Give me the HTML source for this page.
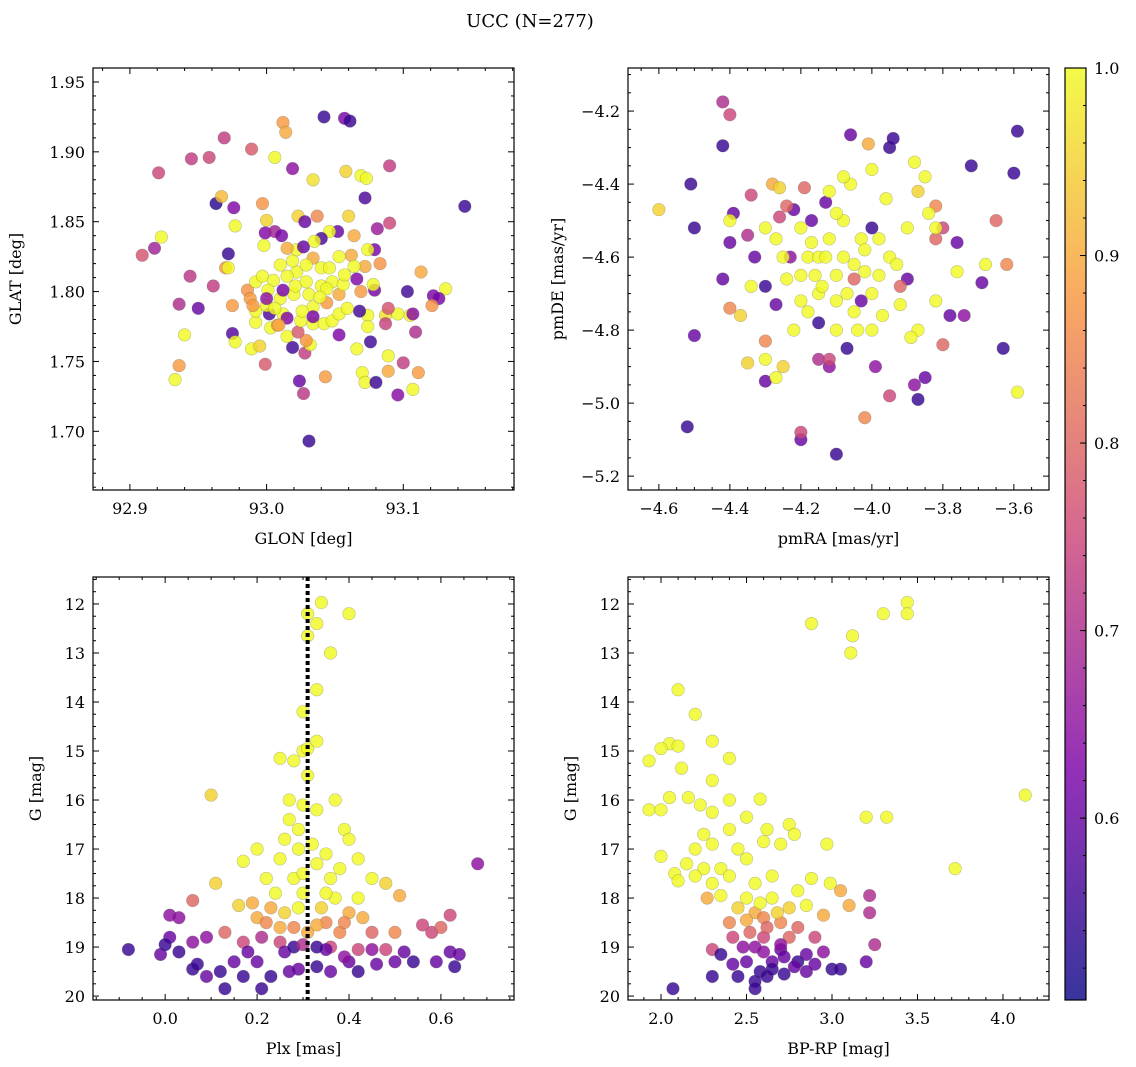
<!DOCTYPE html>
<html><head><meta charset="utf-8"><style>
body{margin:0;background:#fff;}
svg{display:block;font-family:"DejaVu Serif","Liberation Serif",serif;}
</style></head><body>
<svg id="fig" width="1136" height="1067" xmlns="http://www.w3.org/2000/svg">
<text x="530" y="27" font-size="18" text-anchor="middle">UCC (N=277)</text>
</svg>
<script>
// ---- data: [x, y, probability] per panel ----
const glonGlat = [[93.042,1.925,.55],[93.057,1.924,.62],[93.061,1.922,.55],[93.012,1.921,.88],[93.014,1.914,.9],[92.969,1.910,.73],[92.989,1.902,.78],[92.945,1.895,.73],[92.958,1.896,.75],[93.006,1.896,1],[93.019,1.888,.65],[92.921,1.885,.75],[93.090,1.890,.73],[93.034,1.880,.97],[93.058,1.886,.95],[93.069,1.883,1],[93.073,1.881,1],[93.072,1.867,.57],[93.145,1.861,.55],[92.963,1.863,.53],[92.967,1.868,.92],[92.976,1.860,.63],[92.997,1.863,.87],[92.977,1.847,1],[93.000,1.851,.95],[93.023,1.854,.95],[93.028,1.850,.6],[93.037,1.854,.85],[93.060,1.854,.95],[92.923,1.839,1],[92.918,1.831,.68],[92.909,1.826,.77],[92.972,1.827,.55],[92.970,1.817,.88],[92.972,1.817,1],[92.944,1.811,.72],[92.961,1.804,.73],[92.936,1.791,.7],[92.950,1.788,.6],[92.975,1.790,.88],[92.940,1.769,1],[92.975,1.770,.58],[92.977,1.764,1],[92.936,1.747,.88],[92.933,1.737,1],[92.999,1.842,.63],[93.006,1.843,.68],[93.011,1.840,.62],[92.998,1.833,1],[93.052,1.843,.6],[93.046,1.843,1],[93.040,1.838,.57],[93.064,1.840,.9],[93.081,1.845,.67],[93.090,1.849,.75],[93.079,1.830,.62],[93.074,1.830,1],[93.062,1.826,.9],[93.053,1.825,1],[93.083,1.820,.87],[93.072,1.818,.9],[93.064,1.818,1],[93.113,1.814,.9],[93.131,1.802,1],[93.103,1.800,.56],[93.122,1.797,.62],[93.126,1.795,.62],[93.121,1.790,.87],[93.109,1.771,.7],[93.105,1.783,1],[93.107,1.784,.64],[93.096,1.784,1],[93.087,1.783,.97],[93.089,1.788,.77],[93.087,1.777,.74],[93.074,1.783,1],[93.074,1.775,1],[93.068,1.786,.56],[93.079,1.801,.62],[93.078,1.805,1],[93.069,1.800,.88],[93.066,1.809,.63],[93.076,1.764,.56],[93.053,1.769,.63],[93.066,1.759,1],[93.089,1.754,1],[93.100,1.749,.73],[93.089,1.743,.9],[93.111,1.742,.88],[93.070,1.742,1],[93.072,1.735,1],[93.080,1.735,.55],[93.096,1.726,.64],[93.107,1.730,1],[93.043,1.739,.88],[93.024,1.736,.6],[93.027,1.727,.72],[93.031,1.693,.55],[92.999,1.748,.78],[93.019,1.760,.56],[93.028,1.756,.73],[93.032,1.762,1],[93.029,1.765,.87],[93.015,1.768,1],[93.023,1.771,.78],[92.989,1.759,1],[92.995,1.761,.95],[93.003,1.774,1],[93.008,1.776,.88],[92.992,1.778,1],[92.992,1.786,1],[93.002,1.784,.57],[93.012,1.784,1],[93.025,1.779,1],[93.034,1.777,1],[93.042,1.777,1],[93.048,1.779,1],[93.053,1.784,1],[93.059,1.788,1],[93.044,1.792,.88],[93.053,1.798,.9],[93.034,1.789,1],[93.026,1.786,1],[93.034,1.782,.62],[93.015,1.781,.63],[92.986,1.801,.87],[92.988,1.795,.88],[92.992,1.807,1],[92.997,1.811,1],[93.005,1.808,1],[93.001,1.801,1],[93.010,1.795,1],[93.000,1.790,1],[93.006,1.788,1],[93.020,1.798,1],[93.021,1.804,1],[93.031,1.798,1],[93.029,1.807,1],[93.022,1.814,1],[93.015,1.811,1],[93.010,1.819,1],[93.019,1.822,1],[93.022,1.830,1],[93.015,1.831,.9],[93.027,1.832,.6],[93.034,1.824,.9],[93.029,1.819,1],[93.040,1.817,1],[93.046,1.817,1],[93.035,1.836,1],[93.040,1.804,1],[93.048,1.807,1],[93.056,1.805,1],[93.057,1.812,1],[93.044,1.802,1],[93.039,1.796,1],[93.012,1.801,.62],[93.000,1.795,.65],[92.990,1.790,.88],[93.009,1.776,.9]];
const pmPoints = [[-4.52,-5.065,.55],[-4.5,-4.815,.6],[-4.5,-4.52,.55],[-4.51,-4.4,.55],[-4.42,-4.295,.55],[-4.4,-4.56,.6],[-4.39,-4.48,.6],[-4.42,-4.66,.6],[-4.33,-4.6,.6],[-4.3,-4.68,.55],[-4.3,-4.94,.6],[-4.27,-4.73,.6],[-4.22,-4.47,.6],[-4.2,-5.1,.6],[-4.17,-4.5,.6],[-4.15,-4.78,.55],[-4.1,-5.14,.55],[-4.13,-4.45,.6],[-4.07,-4.85,.55],[-4.06,-4.265,.6],[-4.0,-4.52,.55],[-3.95,-4.3,.55],[-3.94,-4.275,.55],[-3.9,-4.66,.6],[-3.85,-4.93,.6],[-3.76,-4.56,.6],[-3.72,-4.35,.55],[-3.69,-4.67,.6],[-3.63,-4.85,.55],[-3.59,-4.255,.55],[-3.6,-4.37,.55],[-3.87,-4.99,.55],[-4.23,-4.6,.65],[-4.03,-4.72,.6],[-3.74,-4.76,.65],[-3.78,-4.76,.6],[-4.12,-4.9,.65],[-3.99,-4.9,.65],[-3.88,-4.95,.65],
[-4.42,-4.175,.7],[-4.4,-4.21,.75],[-4.34,-4.43,.75],[-4.35,-4.54,.7],[-4.2,-5.08,.75],[-4.26,-4.49,.75],[-4.15,-4.88,.7],[-4.12,-4.88,.75],[-4.02,-5.04,.85],[-4.05,-4.66,.8],[-3.95,-4.98,.75],[-3.8,-4.52,.75],[-3.82,-4.55,.8],[-3.65,-4.5,.8],[-3.62,-4.62,.85],[-3.8,-4.84,.8],[-4.4,-4.74,.85],[-4.3,-4.83,.85],[-4.01,-4.29,.9],[-3.92,-4.68,.8],[-4.19,-4.41,.8],[-3.82,-4.46,.85],[-4.24,-4.46,.8],
[-4.6,-4.47,.95],[-4.4,-4.5,1],[-4.34,-4.68,1],[-4.37,-4.76,.95],[-4.35,-4.89,.95],[-4.3,-4.88,1],[-4.27,-4.93,1],[-4.25,-4.9,.95],[-4.28,-4.4,.9],[-4.26,-4.41,.95],[-4.2,-4.52,1],[-4.18,-4.6,1],[-4.2,-4.65,1],[-4.15,-4.6,1],[-4.12,-4.55,1],[-4.1,-4.65,1],[-4.08,-4.6,1],[-4.1,-4.72,1],[-4.05,-4.75,1],[-4.02,-4.64,1],[-4.0,-4.7,1],[-3.98,-4.65,1],[-4.03,-4.55,1],[-3.98,-4.55,1],[-3.95,-4.6,1],[-3.92,-4.73,1],[-4.04,-4.8,1],[-4.0,-4.8,1],[-4.15,-4.7,1],[-4.2,-4.72,1],[-4.25,-4.6,1],[-4.27,-4.55,1],[-4.3,-4.52,1],[-4.22,-4.8,1],[-4.18,-4.75,1],[-4.08,-4.5,1],[-4.06,-4.4,1],[-4.08,-4.38,1],[-4.0,-4.36,1],[-3.9,-4.52,1],[-3.87,-4.42,.95],[-3.85,-4.38,1],[-3.88,-4.34,1],[-3.84,-4.48,1],[-3.82,-4.52,1],[-3.76,-4.64,1],[-3.68,-4.62,1],[-3.59,-4.97,1],[-3.87,-4.8,1],[-3.89,-4.82,1],[-3.82,-4.72,1],[-4.1,-4.48,1],[-4.13,-4.6,1],[-4.16,-4.65,1],[-4.24,-4.66,1],[-4.1,-4.8,1],[-3.97,-4.76,1],[-4.12,-4.42,1],[-3.96,-4.44,1],[-4.05,-4.62,1],[-4.14,-4.68,1],[-4.07,-4.7,1],[-4.02,-4.58,1],[-4.17,-4.56,1],[-3.93,-4.62,1]];
const plxG = [[0.31,12.2,1],[0.31,12.65,1],[0.33,12.4,1],[0.34,11.97,1],[0.4,12.2,1],[0.36,13.0,1],[0.33,13.75,1],[0.3,14.2,1],[0.3,15.0,1],[0.31,14.95,1],[0.33,14.8,1],[0.25,15.15,1],[0.28,15.2,1],[0.1,15.9,.95],[0.31,15.5,1],[0.3,16.1,1],[0.27,16.0,1],[0.33,16.2,1],[0.37,16.0,1],[0.27,16.4,1],[0.39,16.6,1],[0.4,16.8,1],[0.26,16.8,1],[0.29,17.0,1],[0.35,17.1,1],[0.2,17.0,1],[0.17,17.25,1],[0.11,17.7,.95],[0.25,17.2,1],[0.33,17.3,1],[0.38,17.4,1],[0.42,17.2,1],[0.45,17.6,1],[0.22,17.6,1],[0.28,17.6,1],[0.3,17.5,1],[0.36,17.6,1],[0.48,17.7,.95],[0.24,17.9,1],[0.3,17.9,1],[0.37,18.0,1],[0.19,18.1,.9],[0.16,18.15,.95],[0.42,18.0,1],[0.51,17.95,.9],[0.29,18.2,1],[0.26,18.3,.95],[0.34,18.2,.95],[0.4,18.3,.9],[0.2,18.4,.9],[0.22,18.5,.85],[0.25,18.6,.9],[0.35,18.5,.85],[0.43,18.4,.9],[0.28,18.6,.85],[0.31,18.7,.9],[0.38,18.7,.85],[0.45,18.7,.8],[0.5,18.7,.85],[0.13,18.7,.8],[0.17,18.9,.75],[0.25,18.9,.75],[0.36,19.0,.75],[0.42,19.05,.75],[0.48,19.05,.75],[0.58,18.7,.75],[0.6,18.6,.8],[0.62,18.35,.75],[0.56,18.55,.75],[0.06,18.05,.8],[0.68,17.3,.65],[0.09,18.8,.65],[0.06,18.9,.65],[0.01,18.35,.65],[0.03,18.4,.65],[0.01,18.8,.6],[-0.08,19.05,.55],[-0.01,19.15,.6],[0.0,18.95,.55],[0.03,19.1,.55],[0.06,19.45,.55],[0.07,19.35,.55],[0.09,19.6,.6],[0.12,19.5,.55],[0.13,19.85,.55],[0.17,19.6,.55],[0.21,19.85,.55],[0.23,19.6,.55],[0.2,19.3,.6],[0.26,19.1,.6],[0.29,19.45,.6],[0.33,19.4,.55],[0.36,19.5,.6],[0.4,19.3,.6],[0.42,19.5,.55],[0.46,19.35,.6],[0.5,19.3,.6],[0.54,19.3,.55],[0.59,19.3,.6],[0.62,19.1,.6],[0.63,19.4,.55],[0.64,19.15,.6],[0.35,19.05,.6],[0.28,19.0,.55],[0.45,19.05,.65],[0.52,19.1,.6],[0.15,19.3,.6],[0.27,19.5,.6],[0.33,19.0,.55],[0.32,16.9,1],[0.29,16.6,1],[0.35,17.9,1],[0.23,18.2,.9],[0.39,18.5,.85],[0.33,18.55,.9],[0.21,18.8,.7],[0.3,18.95,.7],[0.39,19.2,.65],[0.18,19.1,.6]];
const cmdPoints = [[3.44,11.97,1],[3.44,12.2,1],[3.3,12.2,1],[2.88,12.4,1],[3.12,12.65,1],[3.11,13.0,1],[2.1,13.75,1],[2.2,14.25,1],[2.3,14.8,1],[2.05,14.85,1],[2.1,14.9,1],[2.0,14.95,1],[2.4,15.15,1],[1.93,15.2,1],[2.12,15.35,1],[2.3,15.6,1],[2.05,15.95,1],[2.16,15.95,1],[2.4,16.0,1],[2.58,15.98,1],[4.13,15.9,1],[1.93,16.2,1],[2.0,16.2,1],[2.23,16.1,1],[2.3,16.25,1],[2.5,16.35,1],[3.2,16.35,1],[3.32,16.35,1],[2.75,16.5,1],[2.4,16.6,1],[2.25,16.7,1],[2.62,16.6,1],[2.78,16.7,1],[2.3,16.9,1],[2.2,17.0,1],[2.45,17.0,1],[2.6,16.85,1],[2.7,16.9,1],[2.97,16.9,1],[2.0,17.15,1],[2.15,17.3,1],[2.25,17.4,1],[2.35,17.4,1],[3.72,17.4,1],[2.5,17.2,1],[2.08,17.5,1],[2.2,17.55,1],[2.3,17.7,1],[2.4,17.55,1],[2.55,17.7,1],[2.65,17.55,1],[2.88,17.6,1],[2.99,17.7,1],[2.8,17.85,1],[2.1,17.65,1],[2.35,17.95,1],[2.5,18.0,1],[2.65,18.0,1],[2.45,18.2,.95],[2.55,18.3,.9],[2.75,18.2,.95],[2.85,18.15,1],[3.1,18.15,.9],[2.95,18.35,.9],[2.27,18.0,.9],[2.6,18.4,.85],[2.7,18.5,.85],[2.4,18.5,.85],[3.05,17.85,.9],[2.8,18.6,.8],[2.52,18.7,.8],[2.3,19.05,.75],[2.42,18.8,.75],[2.6,18.8,.75],[2.75,18.8,.8],[2.9,18.8,.75],[3.22,17.95,.7],[3.22,18.3,.7],[3.25,18.95,.7],[2.48,19.0,.65],[2.6,19.1,.65],[2.7,19.05,.6],[2.85,19.15,.6],[2.95,19.1,.65],[2.35,19.15,.55],[2.5,19.3,.6],[2.65,19.3,.6],[2.8,19.3,.55],[2.58,19.5,.55],[2.72,19.55,.55],[2.85,19.5,.6],[3.0,19.45,.55],[3.05,19.45,.55],[2.3,19.6,.55],[2.45,19.6,.55],[2.55,19.7,.55],[2.62,19.6,.55],[2.07,19.85,.55],[2.55,19.85,.55],[3.2,19.3,.6],[2.72,19.2,.6],[2.58,18.1,1],[2.68,18.3,.95],[2.5,18.45,.9],[2.62,18.6,.8],[2.7,18.95,.65],[2.55,19.0,.65],[2.78,19.4,.6],[2.65,19.45,.55],[2.42,19.35,.6],[2.9,19.35,.6]];
const plxMedian = 0.31;
const cbTicks = [0.6,0.7,0.8,0.9,1.0];

const NS="http://www.w3.org/2000/svg", svg=document.getElementById('fig');
function mk(tag,at,parent){const e=document.createElementNS(NS,tag);for(const k in at)e.setAttribute(k,at[k]);(parent||svg).appendChild(e);return e;}
const stops=[[0,[13,8,135]],[0.25,[126,3,168]],[0.5,[204,71,120]],[0.75,[248,149,64]],[1,[240,249,33]]];
const vmin=0.503,vmax=1.0;
function cmap(v){let t=Math.max(0,Math.min(1,(v-vmin)/(vmax-vmin)));for(let i=1;i<stops.length;i++){if(t<=stops[i][0]){const a=stops[i-1],b=stops[i],f=(t-a[0])/(b[0]-a[0]);return 'rgb('+a[1].map((c,j)=>Math.round(c+(b[1][j]-c)*f)).join(',')+')';}}return 'rgb(240,249,33)';}
function lin(d0,d1,r0,r1){return v=>r0+(v-d0)/(d1-d0)*(r1-r0);}
function fmt(v,dec){if(Math.abs(v)<1e-9)v=0;return (v<0?'−':'')+Math.abs(v).toFixed(dec);}

function panel(o){
  const g=mk('g',{});
  
  
  const X=lin(o.xd[0],o.xd[1],o.x0,o.x1);
  const Y=o.inv?lin(o.yd[0],o.yd[1],o.y0,o.y1):lin(o.yd[0],o.yd[1],o.y1,o.y0);
  const pts=mk('g',{},g);
  
  
  o.data.forEach(d=>{
    const c=mk('circle',{cx:X(d[0]),cy:Y(d[1]),r:6.3,fill:cmap(d[2]),'fill-opacity':0.82,stroke:'#555','stroke-opacity':0.35,'stroke-width':0.6},pts);
    
    
  });
  if(o.vline!==undefined){
    const l=mk('line',{x1:X(o.vline),x2:X(o.vline),y1:o.y0,y2:o.y1,stroke:'#000','stroke-width':4,'stroke-dasharray':'4,3'},g);
    
    
  }
  const f=mk('rect',{x:o.x0,y:o.y0,width:o.x1-o.x0,height:o.y1-o.y0,fill:'none',stroke:'#000','stroke-width':1.2},g);
  
  
  const eps=1e-9;
  for(let i=Math.ceil(o.xd[0]/o.xmin-eps);i*o.xmin<=o.xd[1]+eps;i++){
    const v=i*o.xmin,px=X(v);const maj=Math.abs(v/o.xmaj-Math.round(v/o.xmaj))<1e-6;const L=maj?6:3;
    mk('line',{x1:px,x2:px,y1:o.y1,y2:o.y1-L,stroke:'#000'},g);mk('line',{x1:px,x2:px,y1:o.y0,y2:o.y0+L,stroke:'#000'},g);
    if(maj){const t=mk('text',{x:px,y:o.y1+24,'font-size':16,'text-anchor':'middle'},g);t.textContent=fmt(v,o.xdec);
      }
  }
  for(let i=Math.ceil(o.yd[0]/o.ymin-eps);i*o.ymin<=o.yd[1]+eps;i++){
    const v=i*o.ymin,py=Y(v);const maj=Math.abs(v/o.ymaj-Math.round(v/o.ymaj))<1e-6;const L=maj?6:3;
    mk('line',{x1:o.x0,x2:o.x0+L,y1:py,y2:py,stroke:'#000'},g);mk('line',{x1:o.x1,x2:o.x1-L,y1:py,y2:py,stroke:'#000'},g);
    if(maj){const t=mk('text',{x:o.x0-8,y:py+6,'font-size':16,'text-anchor':'end'},g);t.textContent=fmt(v,o.ydec);
      }
  }
  const xt=mk('text',{x:(o.x0+o.x1)/2,y:o.y1+54,'font-size':16,'text-anchor':'middle'},g);xt.textContent=o.xl;
  
  const yx=o.x0-o.ylo,yy=(o.y0+o.y1)/2;
  const yt=mk('text',{x:yx,y:yy,'font-size':16,'text-anchor':'middle',transform:`rotate(-90 ${yx} ${yy})`},g);yt.textContent=o.yl;
  
}
panel({name:'glon-glat-panel',data:glonGlat,x0:93,x1:514,y0:68,y1:490,xd:[92.873,93.181],yd:[1.658,1.960],xmaj:0.1,xmin:0.02,ymaj:0.05,ymin:0.01,xdec:1,ydec:2,xl:'GLON [deg]',yl:'GLAT [deg]',ylo:72});
panel({name:'proper-motion-panel',data:pmPoints,x0:628,x1:1049,y0:68,y1:490,xd:[-4.687,-3.501],yd:[-5.238,-4.082],xmaj:0.2,xmin:0.05,ymaj:0.2,ymin:0.05,xdec:1,ydec:1,xl:'pmRA [mas/yr]',yl:'pmDE [mas/yr]',ylo:65});
panel({name:'parallax-magnitude-panel',data:plxG,x0:93,x1:514,y0:577,y1:1000,xd:[-0.157,0.759],yd:[11.45,20.08],inv:true,xmaj:0.2,xmin:0.05,ymaj:1,ymin:0.25,xdec:1,ydec:0,xl:'Plx [mas]',yl:'G [mag]',ylo:52,vline:plxMedian});
panel({name:'color-magnitude-panel',data:cmdPoints,x0:628,x1:1049,y0:577,y1:1000,xd:[1.807,4.269],yd:[11.45,20.08],inv:true,xmaj:0.5,xmin:0.1,ymaj:1,ymin:0.25,xdec:1,ydec:0,xl:'BP-RP [mag]',yl:'G [mag]',ylo:52});

// colorbar
const cb=mk('g',{});


const defs=mk('defs',{},cb);
const gr=mk('linearGradient',{id:'cbg',x1:0,y1:1,x2:0,y2:0},defs);
stops.forEach(s=>mk('stop',{offset:s[0],'stop-color':'rgb('+s[1].join(',')+')','stop-opacity':0.82},gr));
const cx0=1065,cx1=1086,cy0=68,cy1=1000;
mk('rect',{x:cx0,y:cy0,width:cx1-cx0,height:cy1-cy0,fill:'url(#cbg)',stroke:'#000','stroke-width':1.2},cb);
const CY=lin(vmin,vmax,cy1,cy0);
for(let i=26;i<=50;i++){const py=CY(i*0.02);mk('line',{x1:cx1,x2:cx1-3,y1:py,y2:py,stroke:'#000'},cb);}
cbTicks.forEach(v=>{const py=CY(v);mk('line',{x1:cx1,x2:cx1-6,y1:py,y2:py,stroke:'#000'},cb);
  const t=mk('text',{x:cx1+8,y:py+6,'font-size':16},cb);t.textContent=v.toFixed(1);
  });
</script>
</body></html>
